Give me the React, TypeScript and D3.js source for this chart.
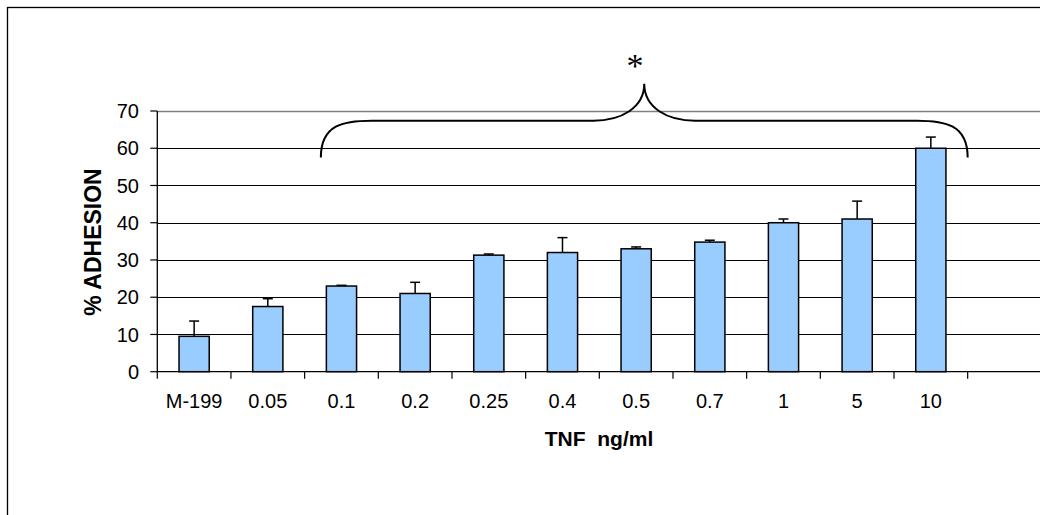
import React from "react";
import * as d3 from "d3";

// TNF dose groups and mean % adhesion with upper SD
const categories = ["M-199", "0.05", "0.1", "0.2", "0.25", "0.4", "0.5", "0.7", "1", "5", "10"];
const adhesion = [9.5, 17.5, 23.0, 21.0, 31.3, 32.0, 33.0, 34.8, 40.0, 41.0, 60.0];
const errorUp = [4.1, 2.1, 0.2, 3.0, 0.3, 4.0, 0.5, 0.5, 1.0, 4.8, 3.0];
const yTicks = [0, 10, 20, 30, 40, 50, 60, 70];

// significance bracket: spans from "0.1" to "10"
const braceFrom = "0.1";
const braceTo = "10";
const braceLevels = { foot: 57.5, bar: 67.4, tip: 77.3 };

const W = 1040;
const H = 515;
const LEFT = 157.3;
const STEP = 73.67;
const SLOTS = categories.length + 1; // one trailing empty slot

export default function App() {
  const slots = [...categories, ""];
  const x = d3.scaleBand<string>().domain(slots).range([LEFT, LEFT + STEP * SLOTS]).padding(0);
  const y = d3.scaleLinear().domain([0, 70]).range([371.7, 111]);
  const barW = x.bandwidth() * 0.41;
  const plotRight = LEFT + STEP * SLOTS;
  const bottom = y(0);

  // brace geometry from scales
  const bx0 = (x(braceFrom) as number) + x.bandwidth() * 0.22;
  const bx1 = (x(braceTo) as number) + x.bandwidth();
  const bMid = (bx0 + bx1) / 2;
  const yFoot = y(braceLevels.foot);
  const yBar = y(braceLevels.bar);
  const yTip = y(braceLevels.tip);
  const r = 51;
  const bracePath = d3.path();
  bracePath.moveTo(bx0, yFoot);
  bracePath.bezierCurveTo(bx0, yBar + (yFoot - yBar) * 0.1, bx0 + r * 0.45, yBar, bx0 + r, yBar);
  bracePath.lineTo(bMid - r, yBar);
  bracePath.bezierCurveTo(bMid - r * 0.45, yBar, bMid, yBar - (yBar - yTip) * 0.35, bMid, yTip);
  bracePath.bezierCurveTo(bMid, yBar - (yBar - yTip) * 0.35, bMid + r * 0.45, yBar, bMid + r, yBar);
  bracePath.lineTo(bx1 - r, yBar);
  bracePath.bezierCurveTo(bx1 - r * 0.45, yBar, bx1, yBar + (yFoot - yBar) * 0.1, bx1, yFoot);

  const font = "Liberation Sans, Arial, sans-serif";

  return (
    <svg
      width={W}
      height={H}
      style={{ position: "absolute", left: 0, top: 0, background: "#fff" }}
      fontFamily={font}
    >
      <rect x={0} y={0} width={W} height={H} fill="#fff" />
      <rect x={7.5} y={7.5} width={W + 100} height={H + 100} fill="none" stroke="#000" strokeWidth={1.3} />

      {/* gridlines */}
      {yTicks.slice(1).map((t) => (
        <line
          key={t}
          x1={LEFT}
          x2={plotRight}
          y1={Math.round(y(t)) + 0.5}
          y2={Math.round(y(t)) + 0.5}
          stroke={t === 70 ? "#808080" : "#000"}
          strokeWidth={t === 70 ? 1.5 : 1}
        />
      ))}

      {/* bars */}
      {categories.map((c, i) => {
        const cx = (x(c) as number) + x.bandwidth() / 2;
        return (
          <rect
            key={c}
            x={cx - barW / 2}
            y={y(adhesion[i])}
            width={barW}
            height={bottom - y(adhesion[i])}
            fill="#99CCFF"
            stroke="#000"
            strokeWidth={1.5}
          />
        );
      })}

      {/* error bars (upper only) */}
      {categories.map((c, i) => {
        const cx = (x(c) as number) + x.bandwidth() / 2;
        const top = y(adhesion[i] + errorUp[i]);
        return (
          <g key={c} stroke="#000" strokeWidth={1.5}>
            <line x1={cx} x2={cx} y1={y(adhesion[i])} y2={top} />
            <line x1={cx - 5} x2={cx + 5} y1={top} y2={top} />
          </g>
        );
      })}

      {/* y axis */}
      <line x1={LEFT} x2={LEFT} y1={y(70)} y2={bottom} stroke="#000" strokeWidth={1.3} />
      {yTicks.map((t) => (
        <g key={t}>
          <line x1={LEFT - 7} x2={LEFT} y1={y(t)} y2={y(t)} stroke="#000" strokeWidth={1.2} />
          <text x={139} y={y(t)} dy="0.36em" textAnchor="end" fontSize={20} fill="#000">
            {t}
          </text>
        </g>
      ))}

      {/* x axis */}
      <line x1={LEFT} x2={plotRight} y1={bottom} y2={bottom} stroke="#000" strokeWidth={1.3} />
      {slots.map((c) => (
        <line
          key={"t" + c}
          x1={x(c) as number}
          x2={x(c) as number}
          y1={bottom}
          y2={bottom + 7}
          stroke="#000"
          strokeWidth={1.2}
        />
      ))}
      {categories.map((c) => (
        <text
          key={"l" + c}
          x={(x(c) as number) + x.bandwidth() / 2}
          y={408}
          textAnchor="middle"
          fontSize={20}
          fill="#000"
        >
          {c}
        </text>
      ))}

      {/* axis titles */}
      <text x={599} y={446} textAnchor="middle" fontSize={21} fontWeight="bold" fill="#000" xmlSpace="preserve">
        TNF  ng/ml
      </text>
      <text
        transform={`translate(101, 242) rotate(-90)`}
        textAnchor="middle"
        fontSize={23}
        fontWeight="bold"
        fill="#000"
      >
        % ADHESION
      </text>

      {/* significance bracket */}
      <path d={bracePath.toString()} fill="none" stroke="#000" strokeWidth={2} />
      <text x={635} y={77} textAnchor="middle" fontSize={34} fontFamily="Liberation Serif, Times New Roman, serif" fill="#000">
        *
      </text>
    </svg>
  );
}
